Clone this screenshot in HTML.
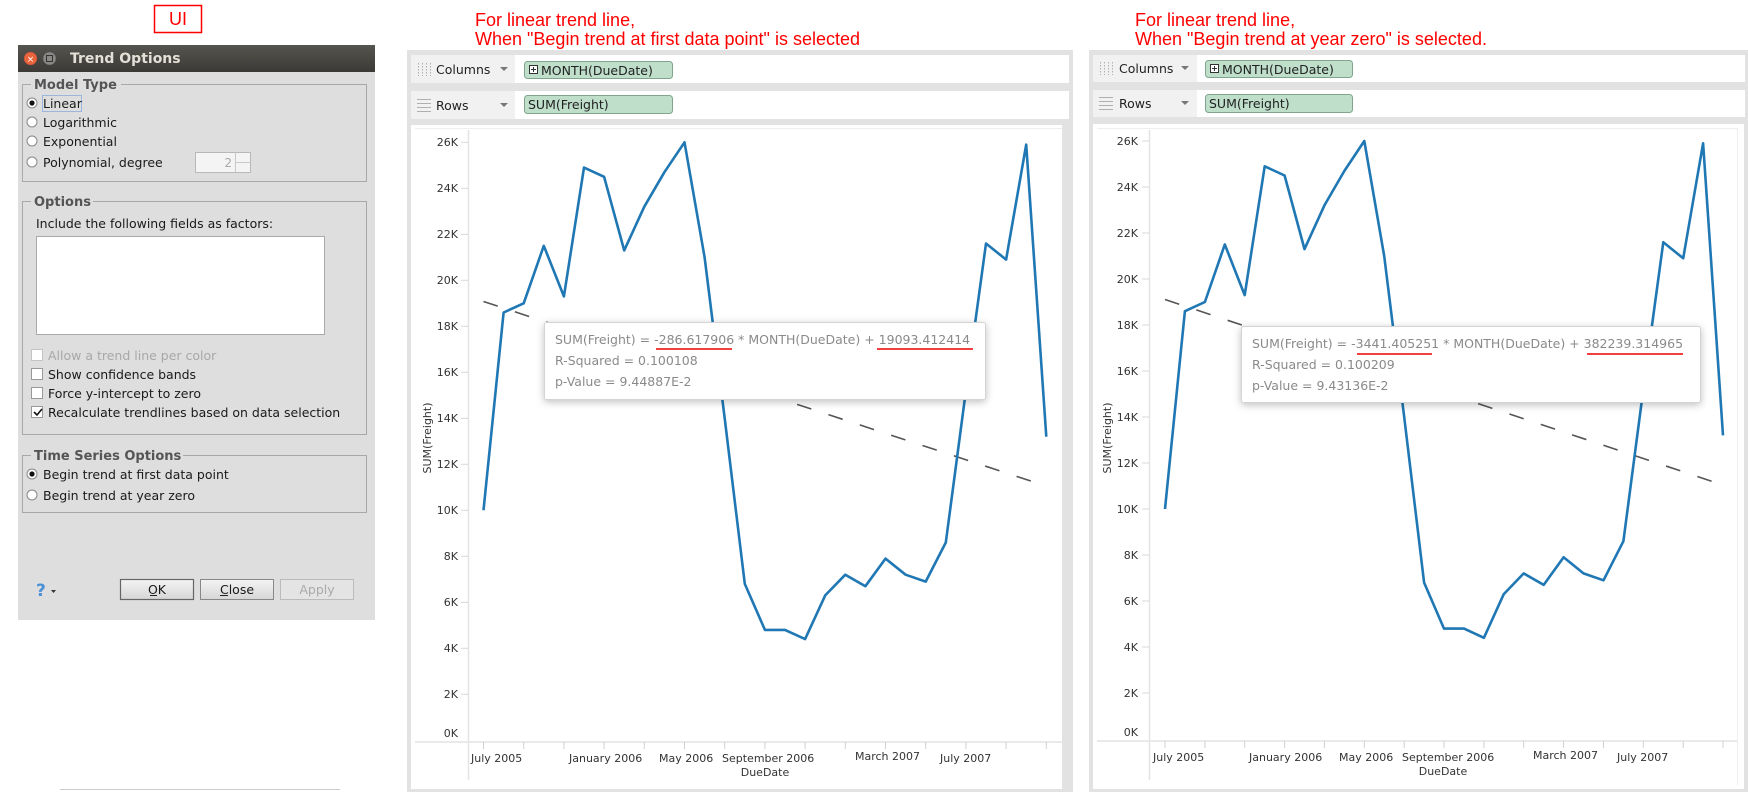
<!DOCTYPE html>
<html><head><meta charset="utf-8"><style>
html,body{margin:0;padding:0;background:#fff;width:1748px;height:792px;overflow:hidden}
svg{display:block}
text{font-family:"DejaVu Sans","Liberation Sans",sans-serif}
.dl{font-size:12.5px;fill:#1a1a1a}
.grp{font-size:13px;font-weight:bold;fill:#555}
.tk{font-size:11px;fill:#333}
.tt{font-size:12.5px;fill:#8a8a8a}
.red{font-family:"Liberation Sans",sans-serif;font-size:18px;fill:#f00}
.sh{font-size:12.5px;fill:#222}
</style></head><body>
<svg width="1748" height="792" viewBox="0 0 1748 792" xmlns="http://www.w3.org/2000/svg">
<defs>
<linearGradient id="tb" x1="0" y1="0" x2="0" y2="1"><stop offset="0" stop-color="#56544f"/><stop offset="1" stop-color="#3b3a36"/></linearGradient>
<linearGradient id="bt" x1="0" y1="0" x2="0" y2="1"><stop offset="0" stop-color="#f4f4f4"/><stop offset="1" stop-color="#d6d6d6"/></linearGradient>
<filter id="sd" x="-10%" y="-30%" width="120%" height="160%"><feDropShadow dx="0" dy="2" stdDeviation="4" flood-color="#000" flood-opacity="0.25"/></filter>
</defs>

<!-- UI label -->
<rect x="154.5" y="5.5" width="47" height="27" fill="none" stroke="#f00" stroke-width="1.5"/>
<text x="178" y="25" class="red" text-anchor="middle">UI</text>

<!-- Dialog -->
<rect x="18" y="45" width="357" height="575" fill="#dedede"/>
<rect x="18" y="45" width="357" height="27" fill="url(#tb)"/>
<circle cx="30.5" cy="58.5" r="6.5" fill="#e8643a" stroke="#a44" stroke-width="0.5"/>
<text x="30.5" y="62" font-size="9" fill="#fff" text-anchor="middle">×</text>
<circle cx="49.5" cy="58.5" r="6.5" fill="#8a8985" stroke="#555" stroke-width="0.5"/>
<rect x="46.5" y="55.5" width="6" height="6" fill="none" stroke="#333" stroke-width="1"/>
<text x="70" y="63" font-size="14" font-weight="bold" fill="#e4e0d8">Trend Options</text>

<rect x="22.5" y="84.5" width="344" height="97" fill="none" stroke="#a8a8a8"/>
<rect x="31" y="77" width="90" height="14" fill="#dedede"/>
<text x="34" y="89" class="grp">Model Type</text>
<g fill="#fff" stroke="#888">
<circle cx="32" cy="103" r="5"/><circle cx="32" cy="122" r="5"/><circle cx="32" cy="141" r="5"/><circle cx="32" cy="162" r="5"/>
<circle cx="32" cy="474" r="5"/><circle cx="32" cy="495" r="5"/>
</g>
<circle cx="32" cy="103" r="2.6" fill="#111"/><circle cx="32" cy="474" r="2.6" fill="#111"/>
<rect x="42.5" y="95.5" width="39" height="16" fill="none" stroke="#9bb6dc"/>
<text x="43" y="108" class="dl">Linear</text>
<text x="43" y="127" class="dl">Logarithmic</text>
<text x="43" y="146" class="dl">Exponential</text>
<text x="43" y="167" class="dl">Polynomial, degree</text>
<rect x="195.5" y="152.5" width="55" height="20" fill="#f4f4f4" stroke="#b8b8b8"/>
<line x1="235.5" y1="152.5" x2="235.5" y2="172.5" stroke="#c8c8c8"/>
<line x1="235.5" y1="162.5" x2="250.5" y2="162.5" stroke="#c8c8c8"/>
<text x="232" y="167" font-size="12" fill="#aaa" text-anchor="end">2</text>

<rect x="22.5" y="201.5" width="344" height="233" fill="none" stroke="#a8a8a8"/>
<rect x="31" y="194" width="62" height="14" fill="#dedede"/>
<text x="34" y="206" class="grp">Options</text>
<text x="36" y="228" class="dl">Include the following fields as factors:</text>
<rect x="36.5" y="236.5" width="288" height="98" fill="#fff" stroke="#aaa"/>
<g fill="#fff" stroke="#999">
<rect x="31.5" y="349.5" width="11" height="11" stroke="#c4c4c4"/><rect x="31.5" y="368.5" width="11" height="11"/><rect x="31.5" y="387.5" width="11" height="11"/><rect x="31.5" y="406.5" width="11" height="11"/>
</g>
<path d="M34 412 l3 3 l5 -6" fill="none" stroke="#111" stroke-width="1.6"/>
<text x="48" y="360" class="dl" style="fill:#a8a8a8">Allow a trend line per color</text>
<text x="48" y="379" class="dl">Show confidence bands</text>
<text x="48" y="398" class="dl">Force y-intercept to zero</text>
<text x="48" y="417" class="dl">Recalculate trendlines based on data selection</text>

<rect x="22.5" y="455.5" width="344" height="57" fill="none" stroke="#a8a8a8"/>
<rect x="31" y="448" width="152" height="14" fill="#dedede"/>
<text x="34" y="460" class="grp">Time Series Options</text>
<text x="43" y="479" class="dl">Begin trend at first data point</text>
<text x="43" y="500" class="dl">Begin trend at year zero</text>

<text x="36" y="596" font-size="17" font-weight="bold" fill="#4a90d9">?</text>
<path d="M51 590 l5 0 l-2.5 3z" fill="#333"/>
<rect x="120.5" y="579.5" width="73" height="20" fill="url(#bt)" stroke="#666" stroke-width="1.2"/>
<rect x="200.5" y="579.5" width="73" height="20" fill="url(#bt)" stroke="#888"/>
<rect x="280.5" y="579.5" width="73" height="20" fill="#e4e4e4" stroke="#bbb"/>
<text x="157" y="594" class="dl" text-anchor="middle">OK</text>
<text x="237" y="594" class="dl" text-anchor="middle">Close</text>
<text x="317" y="594" class="dl" text-anchor="middle" style="fill:#aaa">Apply</text>
<line x1="150" y1="595.5" x2="157" y2="595.5" stroke="#222"/>
<line x1="220" y1="595.5" x2="228" y2="595.5" stroke="#222"/>
<line x1="60" y1="789.5" x2="340" y2="789.5" stroke="#ccc"/>

<!-- ================= LEFT CHART ================= -->
<text x="475" y="26" class="red">For linear trend line,</text>
<text x="475" y="45" class="red">When "Begin trend at first data point" is selected</text>
<rect x="407" y="50" width="666" height="742" fill="#e2e2e2"/>
<rect x="411" y="55" width="658" height="28" fill="#fff"/>
<rect x="411" y="55" width="104" height="28" fill="#f1f1f1"/>
<rect x="411" y="91" width="658" height="28" fill="#fff"/>
<rect x="411" y="91" width="104" height="28" fill="#f1f1f1"/>
<g stroke="#b0b0b0"><line x1="418.5" y1="63" x2="418.5" y2="76" stroke-dasharray="1.5 1.5"/><line x1="422.5" y1="63" x2="422.5" y2="76" stroke-dasharray="1.5 1.5"/><line x1="426.5" y1="63" x2="426.5" y2="76" stroke-dasharray="1.5 1.5"/><line x1="430.5" y1="63" x2="430.5" y2="76" stroke-dasharray="1.5 1.5"/>
<line x1="417" y1="99.5" x2="431" y2="99.5"/><line x1="417" y1="103.5" x2="431" y2="103.5"/><line x1="417" y1="107.5" x2="431" y2="107.5"/><line x1="417" y1="111.5" x2="431" y2="111.5"/></g>
<text x="436" y="74" class="sh">Columns</text><text x="436" y="110" class="sh">Rows</text>
<path d="M500 67 l8 0 l-4 4z M500 103 l8 0 l-4 4z" fill="#777"/>
<rect x="524.5" y="61.5" width="148" height="17" rx="3" fill="#bfdfcb" stroke="#7fa68d"/>
<rect x="529.5" y="65.5" width="8" height="8" fill="#fff" stroke="#333"/><path d="M531 69.5h5M533.5 67v5" stroke="#333"/>
<text x="541" y="75" class="sh">MONTH(DueDate)</text>
<rect x="524.5" y="95.5" width="148" height="18" rx="3" fill="#bfdfcb" stroke="#7fa68d"/>
<text x="528" y="109" class="sh">SUM(Freight)</text>
<rect x="411" y="125" width="651" height="664" fill="#fff"/>
<line x1="415" y1="128.5" x2="1062" y2="128.5" stroke="#eee"/>
<line x1="468.5" y1="130" x2="468.5" y2="780" stroke="#e4e4e4" stroke-width="1.5"/>
<line x1="415" y1="742" x2="1062" y2="742" stroke="#e4e4e4" stroke-width="1.5"/>
<g stroke="#d8d8d8">
<line x1="461" y1="694.3" x2="468" y2="694.3"/><line x1="461" y1="648.3" x2="468" y2="648.3"/><line x1="461" y1="602.3" x2="468" y2="602.3"/><line x1="461" y1="556.3" x2="468" y2="556.3"/><line x1="461" y1="510.3" x2="468" y2="510.3"/><line x1="461" y1="464.3" x2="468" y2="464.3"/><line x1="461" y1="418.3" x2="468" y2="418.3"/><line x1="461" y1="372.3" x2="468" y2="372.3"/><line x1="461" y1="326.3" x2="468" y2="326.3"/><line x1="461" y1="280.3" x2="468" y2="280.3"/><line x1="461" y1="234.3" x2="468" y2="234.3"/><line x1="461" y1="188.3" x2="468" y2="188.3"/><line x1="461" y1="142.3" x2="468" y2="142.3"/>
</g>
<g class="tk" text-anchor="end">
<text x="458" y="737">0K</text><text x="458" y="698">2K</text><text x="458" y="652">4K</text><text x="458" y="606">6K</text><text x="458" y="560">8K</text><text x="458" y="514">10K</text><text x="458" y="468">12K</text><text x="458" y="422">14K</text><text x="458" y="376">16K</text><text x="458" y="330">18K</text><text x="458" y="284">20K</text><text x="458" y="238">22K</text><text x="458" y="192">24K</text><text x="458" y="146">26K</text>
</g>
<text transform="translate(431,438) rotate(-90)" class="tk" font-size="10" text-anchor="middle">SUM(Freight)</text>
<g stroke="#d0d0d0">
<line x1="483.5" y1="742" x2="483.5" y2="749"/><line x1="523.7" y1="742" x2="523.7" y2="749"/><line x1="563.9" y1="742" x2="563.9" y2="749"/><line x1="604.1" y1="742" x2="604.1" y2="749"/><line x1="644.3" y1="742" x2="644.3" y2="749"/><line x1="684.5" y1="742" x2="684.5" y2="749"/><line x1="724.7" y1="742" x2="724.7" y2="749"/><line x1="764.9" y1="742" x2="764.9" y2="749"/><line x1="805.1" y1="742" x2="805.1" y2="749"/><line x1="845.3" y1="742" x2="845.3" y2="749"/><line x1="885.5" y1="742" x2="885.5" y2="749"/><line x1="925.7" y1="742" x2="925.7" y2="749"/><line x1="965.9" y1="742" x2="965.9" y2="749"/><line x1="1006.1" y1="742" x2="1006.1" y2="749"/><line x1="1046.3" y1="742" x2="1046.3" y2="749"/>
</g>
<g class="tk">
<text x="471" y="762">July 2005</text><text x="569" y="762">January 2006</text><text x="659" y="762">May 2006</text><text x="722" y="762">September 2006</text><text x="855" y="760">March 2007</text><text x="940" y="762">July 2007</text>
<text x="765" y="776" text-anchor="middle">DueDate</text>
</g>
<line x1="483.5" y1="301.5" x2="1046" y2="486" stroke="#555" stroke-width="1.6" stroke-dasharray="15 18"/>
<polyline fill="none" stroke="#1f77b4" stroke-width="2.6" stroke-linejoin="round" points="483.5,510.3 503.6,312.5 523.7,303.3 543.8,245.8 563.9,296.4 584,167.6 604.1,176.8 624.2,250.4 644.3,206.7 664.4,172.2 684.5,142.3 704.6,257.3 724.7,418.3 744.8,583.9 764.9,629.9 785,629.9 805.1,639.1 825.2,595.4 845.3,574.7 865.4,586.2 885.5,558.6 905.6,574.7 925.7,581.6 945.8,542.5 965.9,390.7 986,243.5 1006.1,259.6 1026.2,144.6 1046.3,436.7"/>
<rect x="544.5" y="322.5" width="441" height="77" rx="2" fill="#fff" stroke="#d4d4d4" filter="url(#sd)"/>
<g class="tt">
<text x="555" y="344">SUM(Freight) = -286.617906 * MONTH(DueDate) + 19093.412414</text>
<text x="555" y="365">R-Squared = 0.100108</text>
<text x="555" y="386">p-Value = 9.44887E-2</text>
</g>
<line x1="656" y1="349" x2="732" y2="349" stroke="#e00" stroke-width="1.5"/>
<line x1="877" y1="349" x2="973" y2="349" stroke="#e00" stroke-width="1.5"/>

<!-- ================= RIGHT CHART ================= -->
<text x="1135" y="26" class="red">For linear trend line,</text>
<text x="1135" y="45" class="red">When "Begin trend at year zero" is selected.</text>
<rect x="1089" y="50" width="659" height="742" fill="#e2e2e2"/>
<rect x="1093" y="55" width="652" height="27" fill="#fff"/>
<rect x="1093" y="55" width="104" height="27" fill="#f1f1f1"/>
<rect x="1093" y="90" width="652" height="27" fill="#fff"/>
<rect x="1093" y="90" width="104" height="27" fill="#f1f1f1"/>
<g stroke="#b0b0b0"><line x1="1100.5" y1="62" x2="1100.5" y2="75" stroke-dasharray="1.5 1.5"/><line x1="1104.5" y1="62" x2="1104.5" y2="75" stroke-dasharray="1.5 1.5"/><line x1="1108.5" y1="62" x2="1108.5" y2="75" stroke-dasharray="1.5 1.5"/><line x1="1112.5" y1="62" x2="1112.5" y2="75" stroke-dasharray="1.5 1.5"/>
<line x1="1099" y1="97.5" x2="1113" y2="97.5"/><line x1="1099" y1="101.5" x2="1113" y2="101.5"/><line x1="1099" y1="105.5" x2="1113" y2="105.5"/><line x1="1099" y1="109.5" x2="1113" y2="109.5"/></g>
<text x="1119" y="73" class="sh">Columns</text><text x="1119" y="108" class="sh">Rows</text>
<path d="M1181 66 l8 0 l-4 4z M1181 101 l8 0 l-4 4z" fill="#777"/>
<rect x="1205.5" y="60.5" width="147" height="17" rx="3" fill="#bfdfcb" stroke="#7fa68d"/>
<rect x="1210.5" y="64.5" width="8" height="8" fill="#fff" stroke="#333"/><path d="M1212 68.5h5M1214.5 66v5" stroke="#333"/>
<text x="1222" y="74" class="sh">MONTH(DueDate)</text>
<rect x="1205.5" y="94.5" width="147" height="18" rx="3" fill="#bfdfcb" stroke="#7fa68d"/>
<text x="1209" y="108" class="sh">SUM(Freight)</text>
<rect x="1093" y="124" width="651" height="665" fill="#fff"/>
<line x1="1097" y1="128.5" x2="1737" y2="128.5" stroke="#eee"/>
<line x1="1737.5" y1="128" x2="1737.5" y2="785" stroke="#eee"/>
<line x1="1149.5" y1="130" x2="1149.5" y2="780" stroke="#e4e4e4" stroke-width="1.5"/>
<line x1="1097" y1="741" x2="1737" y2="741" stroke="#e4e4e4" stroke-width="1.5"/>
<g stroke="#d8d8d8">
<line x1="1142" y1="693" x2="1149" y2="693"/><line x1="1142" y1="647" x2="1149" y2="647"/><line x1="1142" y1="601" x2="1149" y2="601"/><line x1="1142" y1="555" x2="1149" y2="555"/><line x1="1142" y1="509" x2="1149" y2="509"/><line x1="1142" y1="463" x2="1149" y2="463"/><line x1="1142" y1="417" x2="1149" y2="417"/><line x1="1142" y1="371" x2="1149" y2="371"/><line x1="1142" y1="325" x2="1149" y2="325"/><line x1="1142" y1="279" x2="1149" y2="279"/><line x1="1142" y1="233" x2="1149" y2="233"/><line x1="1142" y1="187" x2="1149" y2="187"/><line x1="1142" y1="141" x2="1149" y2="141"/>
</g>
<g class="tk" text-anchor="end">
<text x="1138" y="736">0K</text><text x="1138" y="697">2K</text><text x="1138" y="651">4K</text><text x="1138" y="605">6K</text><text x="1138" y="559">8K</text><text x="1138" y="513">10K</text><text x="1138" y="467">12K</text><text x="1138" y="421">14K</text><text x="1138" y="375">16K</text><text x="1138" y="329">18K</text><text x="1138" y="283">20K</text><text x="1138" y="237">22K</text><text x="1138" y="191">24K</text><text x="1138" y="145">26K</text>
</g>
<text transform="translate(1111,438) rotate(-90)" class="tk" font-size="10" text-anchor="middle">SUM(Freight)</text>
<g stroke="#d0d0d0">
<line x1="1165" y1="741" x2="1165" y2="748"/><line x1="1204.9" y1="741" x2="1204.9" y2="748"/><line x1="1244.7" y1="741" x2="1244.7" y2="748"/><line x1="1284.6" y1="741" x2="1284.6" y2="748"/><line x1="1324.4" y1="741" x2="1324.4" y2="748"/><line x1="1364.3" y1="741" x2="1364.3" y2="748"/><line x1="1404.2" y1="741" x2="1404.2" y2="748"/><line x1="1444" y1="741" x2="1444" y2="748"/><line x1="1483.9" y1="741" x2="1483.9" y2="748"/><line x1="1523.7" y1="741" x2="1523.7" y2="748"/><line x1="1563.6" y1="741" x2="1563.6" y2="748"/><line x1="1603.5" y1="741" x2="1603.5" y2="748"/><line x1="1643.3" y1="741" x2="1643.3" y2="748"/><line x1="1683.2" y1="741" x2="1683.2" y2="748"/><line x1="1723" y1="741" x2="1723" y2="748"/>
</g>
<g class="tk">
<text x="1153" y="761">July 2005</text><text x="1249" y="761">January 2006</text><text x="1339" y="761">May 2006</text><text x="1402" y="761">September 2006</text><text x="1533" y="759">March 2007</text><text x="1617" y="761">July 2007</text>
<text x="1443" y="775" text-anchor="middle">DueDate</text>
</g>
<line x1="1165" y1="299.5" x2="1723" y2="485" stroke="#555" stroke-width="1.6" stroke-dasharray="15 18"/>
<polyline fill="none" stroke="#1f77b4" stroke-width="2.6" stroke-linejoin="round" points="1165,509 1184.9,311.2 1204.9,302 1224.8,244.5 1244.7,295.1 1264.7,166.3 1284.6,175.5 1304.5,249.1 1324.4,205.4 1344.4,170.9 1364.3,141 1384.2,256 1404.2,417 1424.1,582.6 1444,628.6 1464,628.6 1483.9,637.8 1503.8,594.1 1523.7,573.4 1543.7,584.9 1563.6,557.3 1583.5,573.4 1603.5,580.3 1623.4,541.2 1643.3,389.4 1663.3,242.2 1683.2,258.3 1703.1,143.3 1723,435.4"/>
<rect x="1241.5" y="326.5" width="459" height="76" rx="2" fill="#fff" stroke="#d4d4d4" filter="url(#sd)"/>
<g class="tt">
<text x="1252" y="348">SUM(Freight) = -3441.405251 * MONTH(DueDate) + 382239.314965</text>
<text x="1252" y="369">R-Squared = 0.100209</text>
<text x="1252" y="390">p-Value = 9.43136E-2</text>
</g>
<line x1="1357" y1="354" x2="1432" y2="354" stroke="#e00" stroke-width="1.5"/>
<line x1="1587" y1="354" x2="1683" y2="354" stroke="#e00" stroke-width="1.5"/>
</svg>
</body></html>
